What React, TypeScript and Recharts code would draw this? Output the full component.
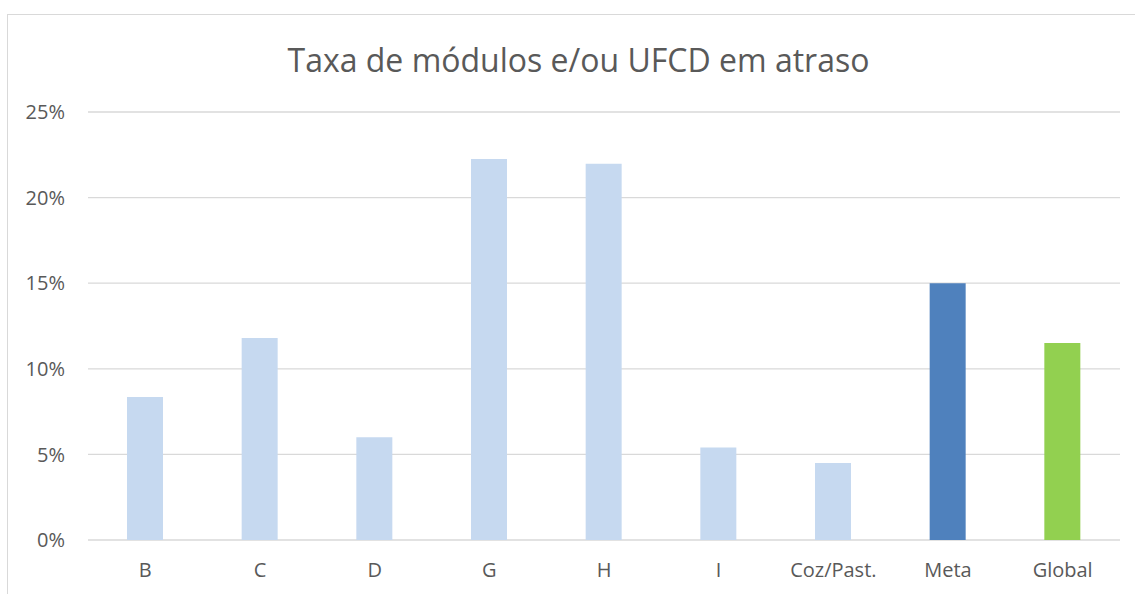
import * as React from "react";
import { BarChart, Bar, XAxis, YAxis, CartesianGrid, Cell } from "recharts";

// categories and values (fraction of modules / UFCD late)
const categories = ["B", "C", "D", "G", "H", "I", "Coz/Past.", "Meta", "Global"];
const lateRate = [0.0835, 0.118, 0.06, 0.2225, 0.2197, 0.054, 0.045, 0.15, 0.115];
const yTicks = [0, 0.05, 0.1, 0.15, 0.2, 0.25];

const LIGHT = "#c6d9f0";
const META = "#4f81bd";
const GLOBAL = "#92d050";
const TEXT = "#595959";
const GRID = "#d9d9d9";
const FONT = "'Open Sans', sans-serif";

const data = categories.map((name, i) => ({ name, value: lateRate[i] }));

const colorFor = (name: string) =>
  name === "Meta" ? META : name === "Global" ? GLOBAL : LIGHT;

export default function App() {
  return (
    <div
      style={{
        position: "absolute",
        left: 0,
        top: 0,
        width: 1135,
        height: 594,
        background: "#fff",
        overflow: "hidden",
        fontFamily: FONT,
      }}
    >
      {/* chart frame, right and bottom edges fall outside the crop */}
      <div
        style={{
          position: "absolute",
          left: 7,
          top: 14,
          width: 1160,
          height: 620,
          border: `1px solid ${GRID}`,
          boxSizing: "border-box",
        }}
      />
      <div
        style={{
          position: "absolute",
          left: 0,
          top: 40,
          width: 1157,
          textAlign: "center",
          fontSize: 32,
          color: TEXT,
          lineHeight: "40px",
        }}
      >
        Taxa de módulos e/ou UFCD em atraso
      </div>
      <div style={{ position: "absolute", left: 0, top: 0 }}>
        <BarChart
          width={1135}
          height={594}
          data={data}
          margin={{ top: 112, right: 15, left: 0, bottom: 0 }}
          barSize={36}
        >
          <CartesianGrid vertical={false} stroke={GRID} strokeWidth={1.3} />
          <XAxis
            dataKey="name"
            interval={0}
            axisLine={false}
            tickLine={false}
            tickSize={0}
            tickMargin={23}
            height={54}
            tick={{ fill: TEXT, fontSize: 20, fontFamily: FONT }}
          />
          <YAxis
            domain={[0, 0.25]}
            ticks={yTicks}
            tickFormatter={(v: number) => `${Math.round(v * 100)}%`}
            axisLine={false}
            tickLine={false}
            tickSize={0}
            tickMargin={23}
            width={88}
            tick={{ fill: TEXT, fontSize: 20, fontFamily: FONT }}
          />
          <Bar dataKey="value" isAnimationActive={false}>
            {data.map((d) => (
              <Cell key={d.name} fill={colorFor(d.name)} />
            ))}
          </Bar>
        </BarChart>
      </div>
    </div>
  );
}
